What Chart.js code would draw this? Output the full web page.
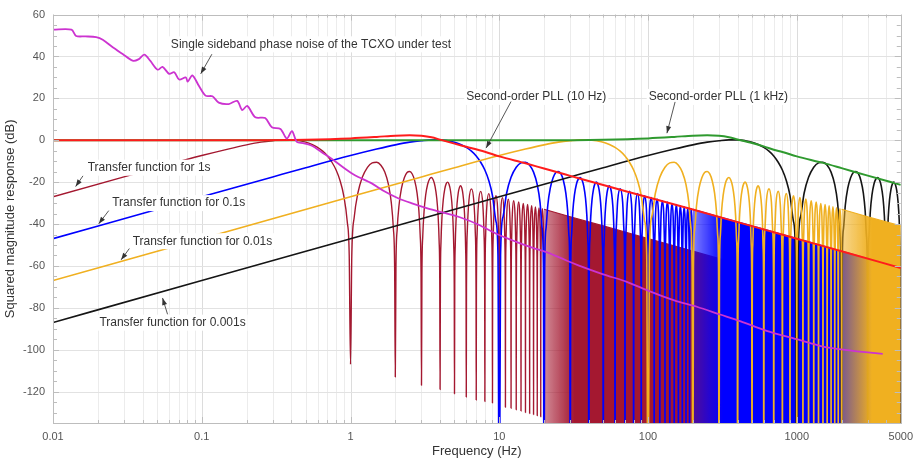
<!DOCTYPE html>
<html>
<head>
<meta charset="utf-8">
<script src="https://cdn.jsdelivr.net/npm/chart.js@4.4.1/dist/chart.umd.min.js"></script>
<style>
  html, body { margin: 0; padding: 0; background: #fff; }
</style>
</head>
<body>
<canvas id="myChart" width="920" height="462"></canvas>
<script>
const FONT = "'Liberation Sans', Arial, sans-serif";

// single sideband phase noise of the TCXO (Hz, dB)
const noiseHz = [0.01, 0.0133, 0.0143, 0.0165, 0.0195, 0.0216, 0.0252, 0.0294, 0.0343, 0.0375, 0.0411, 0.045, 0.0505, 0.0545, 0.0604, 0.0653, 0.0705, 0.0781, 0.0805, 0.0864, 0.0956, 0.106, 0.118, 0.13, 0.152, 0.173, 0.187, 0.202, 0.229, 0.267, 0.296, 0.338, 0.373, 0.404, 0.436, 0.48, 0.55, 0.64, 0.75, 0.92, 1.07, 1.39, 1.7, 2.09, 2.56, 3.33, 4.27, 5.55, 7.2, 9.8, 13, 17, 21, 28, 34, 50, 72, 104, 150, 213, 305, 420, 627, 1000, 1500, 2264, 3000, 3783];
const noiseDb = [52.8, 52.8, 49.8, 49.6, 49.2, 48, 44.4, 41.2, 38, 38.6, 40.9, 38, 33.7, 35, 31.7, 32.5, 29, 30, 28, 31, 26, 21.3, 21, 18, 17.3, 18.8, 14.4, 16.4, 11, 10.6, 6.2, 5.4, 0.8, 4.4, -0.8, -1.4, -2.6, -5.7, -8.9, -13.6, -16.7, -20.6, -24.5, -27.7, -30, -32.6, -34.7, -37, -40.2, -45, -48.5, -51.5, -53.5, -57.3, -59.7, -64, -67.6, -72.3, -76.5, -79.5, -83.2, -86.5, -91, -95, -98.5, -100.3, -101.3, -102];

// second-order PLL responses
const pll10Hz = [0.01, 0.2, 0.5, 1, 1.5, 2, 2.5, 3, 3.5, 4, 5, 6, 8, 10, 15, 20, 30, 50, 100, 200, 500, 1000, 2000, 5000];
const pll10Db = [0, 0.05, 0.3, 0.9, 1.6, 2.2, 2.4, 2.1, 1.4, 0.3, -1.6, -3.1, -5.5, -7.7, -11, -13.5, -17, -21.4, -27.2, -33.1, -41, -47, -53, -61];
const pll1kHz = [0.01, 20, 50, 100, 150, 200, 250, 300, 350, 400, 500, 600, 700, 800, 1000, 1500, 2000, 3000, 5000];
const pll1kDb = [0, 0.05, 0.3, 0.9, 1.6, 2.2, 2.4, 2.1, 1.4, 0.4, -1.3, -2.9, -4.5, -5.6, -7.7, -10.8, -13.3, -16.9, -21.3];

// transfer function shape, read against normalised frequency u = f * tau
const lobeU = [
  1e-5, 1e-4, 1e-3, 0.01, 0.03, 0.05, 0.1, 0.15, 0.2, 0.25, 0.3, 0.35, 0.4, 0.45, 0.5, 0.55, 0.6, 0.65, 0.7, 0.75, 0.8, 0.85, 0.9, 0.95, 0.98, 1,
  1.02, 1.06, 1.12, 1.2, 1.3, 1.4, 1.5, 1.6, 1.7, 1.8, 1.88, 1.94, 1.98, 2,
  2.02, 2.06, 2.12, 2.2, 2.3, 2.4, 2.5, 2.6, 2.7, 2.8, 2.88, 2.94, 2.98, 3,
  3.02, 3.06, 3.12, 3.2, 3.3, 3.4, 3.5, 3.6, 3.7, 3.8, 3.88, 3.94, 3.98, 4,
  4.02, 4.06, 4.12, 4.2, 4.3, 4.4, 4.5, 4.6, 4.7, 4.8, 4.88, 4.94, 4.98, 5,
  5.02, 5.06, 5.12, 5.2, 5.3, 5.4, 5.5, 5.6, 5.7, 5.8, 5.88, 5.94, 5.98, 6,
  6.02, 6.1, 6.25, 6.5, 6.75, 6.9, 6.98, 7,
  7.02, 7.1, 7.25, 7.5, 7.75, 7.9, 7.98, 8,
  8.02, 8.1, 8.25, 8.5, 8.75, 8.9, 8.98, 9,
  9.02, 9.1, 9.25, 9.5, 9.75, 9.9, 9.98, 10,
  10.02, 10.1, 10.25, 10.5, 10.75, 10.9, 10.98, 11,
  11.02, 11.1, 11.25, 11.5, 11.75, 11.9, 11.98, 12,
  12.02, 12.1, 12.25, 12.5, 12.75, 12.9, 12.98, 13,
  13.02, 13.1, 13.25, 13.5, 13.75, 13.9, 13.98, 14,
  14.02, 14.1, 14.25, 14.5, 14.75, 14.9, 14.98, 15,
  15.02, 15.1, 15.25, 15.5, 15.75, 15.9, 15.98, 16,
  16.02, 16.1, 16.25, 16.5, 16.75, 16.9, 16.98, 17,
  17.02, 17.1, 17.25, 17.5, 17.75, 17.9, 17.98, 18,
  18.02, 18.1, 18.25, 18.5, 18.75, 18.9, 18.98, 19,
  19.02, 19.1, 19.25, 19.5, 19.75, 19.9, 19.98, 20
];
const lobeDb = [
  -87, -67, -47, -27, -17.5, -13.1, -7.3, -4.2, -2.2, -0.9, -0.2, 0.2, 0.2, -0.2, -0.9, -2.0, -3.4, -5.2, -7.5, -10.5, -14.2, -19.2, -26.4, -38.7, -54.8, -107,
  -55.2, -36.5, -25.3, -17.7, -12.9, -10.8, -10.5, -11.9, -15.2, -21.2, -29.8, -41.8, -61.0, -113,
  -61.1, -42.3, -30.9, -23.0, -17.9, -15.4, -14.9, -16.1, -19.3, -25.1, -33.5, -45.4, -64.5, -117,
  -64.6, -45.7, -34.2, -26.2, -21.0, -18.5, -17.8, -19.0, -22.0, -27.7, -36.1, -47.9, -67.0, -119,
  -67.1, -48.2, -36.6, -28.6, -23.3, -20.7, -20.0, -21.1, -24.1, -29.8, -38.1, -49.9, -69.0, -121,
  -69.0, -50.1, -38.5, -30.5, -25.1, -22.5, -21.7, -22.8, -25.8, -31.4, -39.7, -51.5, -70.6, -122.6,
  -70.6, -43.0, -28.9, -23.2, -29.5, -44.1, -71.9, -124,
  -72.0, -44.4, -30.1, -24.4, -30.7, -45.3, -73.1, -124.7,
  -73.1, -45.5, -31.3, -25.5, -31.8, -46.3, -74.1, -125.4,
  -74.1, -46.5, -32.3, -26.5, -32.7, -47.2, -75.0, -126.5,
  -75.1, -47.4, -33.1, -27.4, -33.6, -48.1, -75.8, -127.5,
  -75.9, -48.2, -34.0, -28.1, -34.3, -48.8, -76.6, -128,
  -76.6, -49.0, -34.7, -28.9, -35.0, -49.5, -77.3, -128.7,
  -77.3, -49.7, -35.4, -29.5, -35.7, -50.2, -77.9, -129.3,
  -78.0, -50.3, -36.0, -30.2, -36.3, -50.8, -78.5, -130,
  -78.6, -50.9, -36.6, -30.7, -36.9, -51.4, -79.1, -130.5,
  -79.1, -51.5, -37.2, -31.3, -37.4, -51.9, -79.6, -131,
  -79.7, -52.0, -37.7, -31.8, -37.9, -52.4, -80.1, -131.5,
  -80.2, -52.5, -38.2, -32.3, -38.4, -52.9, -80.6, -132,
  -80.6, -53.0, -38.6, -32.7, -38.8, -53.3, -81.0, -133
];
// where the lobes get too dense to separate: the upper envelope only
const envU = [20, 30, 50, 100, 200, 500, 1000, 5000];
const envDb = [-32.95, -36.5, -40.9, -46.9, -52.95, -60.9, -66.9, -80.9];
// the 0.1 s, 0.01 s and 0.001 s curves have their nulls below the axis
const deepNullDb = -200;

const xTickValues = [0.01, 0.1, 1, 10, 100, 1000, 5000];
const xTickLabels = ['0.01', '0.1', '1', '10', '100', '1000', '5000'];
const yTickValues = [60, 40, 20, 0, -20, -40, -60, -80, -100, -120];

const COLORS = {
    noise: '#cc33d0',
    pll10: '#ff1c1c',
    pll1k: '#2f9a2f',
    t1: '164, 24, 48',
    t01: '0, 0, 255',
    t001: '240, 176, 32',
    t0001: '#151515'
};

const pts = (xs, ys) => xs.map((x, i) => ({ x: x, y: ys[i] }));
const tfData = (tau, deep) => lobeU.map((u, i) => ({
    x: u / tau,
    y: deep && Number.isInteger(u) && u >= 1 ? deepNullDb : lobeDb[i]
}));
const envData = (tau) => envU.map((u, i) => ({ x: u / tau, y: envDb[i] }));

function denseFill(rgb, tau) {
    return (c) => {
        const chart = c.chart;
        if (!chart.chartArea) return `rgb(${rgb})`;
        const xs = chart.scales.x;
        const g = chart.ctx.createLinearGradient(xs.getPixelForValue(20 / tau), 0, xs.getPixelForValue(32 / tau), 0);
        g.addColorStop(0, `rgba(${rgb}, 0.5)`);
        g.addColorStop(1, `rgba(${rgb}, 1)`);
        return g;
    };
}

const line = (data, color, width, extra) => Object.assign({
    data: data,
    borderColor: color,
    borderWidth: width,
    pointRadius: 0,
    fill: false,
    cubicInterpolationMode: 'monotone',
    borderJoinStyle: 'round'
}, extra || {});

// first dataset is drawn on top
const datasets = [
    line(pts(noiseHz, noiseDb), COLORS.noise, 1.8, { cubicInterpolationMode: 'default', tension: 0.3 }),
    line(pts(pll10Hz, pll10Db), COLORS.pll10, 2),
    line(pts(pll1kHz, pll1kDb), COLORS.pll1k, 2),
    line(tfData(0.01, true), `rgb(${COLORS.t001})`, 1.6),
    line(envData(0.01), `rgb(${COLORS.t001})`, 1.2, { fill: 'start', backgroundColor: denseFill(COLORS.t001, 0.01), cubicInterpolationMode: 'default' }),
    line(tfData(0.001, true), COLORS.t0001, 1.6),
    line(tfData(0.1, true), `rgb(${COLORS.t01})`, 1.6),
    line(envData(0.1), `rgb(${COLORS.t01})`, 1.2, { fill: 'start', backgroundColor: denseFill(COLORS.t01, 0.1), cubicInterpolationMode: 'default' }),
    line(tfData(1, false), `rgb(${COLORS.t1})`, 1.4),
    line(envData(1), `rgb(${COLORS.t1})`, 1.2, { fill: 'start', backgroundColor: denseFill(COLORS.t1, 1), cubicInterpolationMode: 'default' })
];

const notes = [
    { text: 'Single sideband phase noise of the TCXO under test', at: [0.062, 45.8], from: [0.117, 41.1], to: [0.0984, 31.7] },
    { text: 'Second-order PLL (10 Hz)', at: [6.0, 20.7], from: [12.0, 18.5], to: [8.16, -3.7] },
    { text: 'Second-order PLL (1 kHz)', at: [101, 20.7], from: [152, 18.3], to: [134, 3.4] },
    { text: 'Transfer function for 1s', at: [0.0171, -13.1], from: [0.0159, -17.0], to: [0.0142, -22.1] },
    { text: 'Transfer function for 0.1s', at: [0.025, -30.0], from: [0.0237, -33.6], to: [0.0203, -39.9] },
    { text: 'Transfer function for 0.01s', at: [0.0343, -48.2], from: [0.0326, -51.7], to: [0.0287, -57.1] },
    { text: 'Transfer function for 0.001s', at: [0.0205, -87.1], from: [0.0589, -83.1], to: [0.0545, -75.3] }
];

const xGrid = [];
for (let e = -2; e <= 3; e++) {
    for (let m = 1; m <= 9; m++) {
        const v = m * Math.pow(10, e);
        if (v <= 5000.0001) xGrid.push(v);
    }
}
const isDecade = (v) => Math.abs(Math.log10(v) - Math.round(Math.log10(v))) < 1e-9;

function seg(ctx, x1, y1, x2, y2) {
    ctx.beginPath();
    ctx.moveTo(x1, y1);
    ctx.lineTo(x2, y2);
    ctx.stroke();
}

const decor = {
    id: 'decor',
    beforeDatasetsDraw(chart) {
        const { ctx, chartArea: a, scales: { x, y } } = chart;
        ctx.save();
        ctx.lineWidth = 1;
        xGrid.forEach(v => {
            const px = Math.round(x.getPixelForValue(v)) + 0.5;
            ctx.strokeStyle = isDecade(v) ? '#dcdcdc' : '#ececec';
            seg(ctx, px, a.top, px, a.bottom);
        });
        ctx.strokeStyle = '#e2e2e2';
        yTickValues.forEach(v => {
            const py = Math.round(y.getPixelForValue(v)) + 0.5;
            seg(ctx, a.left, py, a.right, py);
        });
        ctx.restore();
    },
    afterDatasetsDraw(chart) {
        const { ctx, chartArea: a, scales: { x, y } } = chart;
        ctx.save();
        // frame with inward ticks
        ctx.strokeStyle = '#bdbdbd';
        ctx.lineWidth = 1;
        ctx.strokeRect(Math.round(a.left) + 0.5, Math.round(a.top) + 0.5, Math.round(a.right - a.left), Math.round(a.bottom - a.top));
        xGrid.forEach(v => {
            const px = Math.round(x.getPixelForValue(v)) + 0.5;
            const len = isDecade(v) ? 6 : 3;
            seg(ctx, px, a.bottom, px, a.bottom - len);
            seg(ctx, px, a.top, px, a.top + len);
        });
        for (let v = -135; v <= 60; v += 5) {
            const py = Math.round(y.getPixelForValue(v)) + 0.5;
            const len = v % 20 === 0 ? 6 : 4;
            seg(ctx, a.left, py, a.left + len, py);
            seg(ctx, a.right, py, a.right - len, py);
        }
        // callouts
        ctx.font = `12px ${FONT}`;
        ctx.textBaseline = 'middle';
        notes.forEach(n => {
            const tx = x.getPixelForValue(n.at[0]);
            const ty = y.getPixelForValue(n.at[1]);
            const w = ctx.measureText(n.text).width;
            ctx.fillStyle = '#fff';
            ctx.fillRect(tx - 2, ty - 8, w + 4, 16);
            ctx.fillStyle = '#333';
            ctx.fillText(n.text, tx, ty);
            const x1 = x.getPixelForValue(n.from[0]), y1 = y.getPixelForValue(n.from[1]);
            const x2 = x.getPixelForValue(n.to[0]), y2 = y.getPixelForValue(n.to[1]);
            ctx.strokeStyle = '#444';
            ctx.lineWidth = 0.9;
            seg(ctx, x1, y1, x2, y2);
            const ang = Math.atan2(y2 - y1, x2 - x1);
            ctx.fillStyle = '#333';
            ctx.beginPath();
            ctx.moveTo(x2, y2);
            ctx.lineTo(x2 - 7 * Math.cos(ang) + 2.5 * Math.sin(ang), y2 - 7 * Math.sin(ang) - 2.5 * Math.cos(ang));
            ctx.lineTo(x2 - 7 * Math.cos(ang) - 2.5 * Math.sin(ang), y2 - 7 * Math.sin(ang) + 2.5 * Math.cos(ang));
            ctx.closePath();
            ctx.fill();
        });
        ctx.restore();
    }
};

new Chart(document.getElementById('myChart'), {
    type: 'line',
    data: { datasets: datasets },
    plugins: [decor],
    options: {
        responsive: false,
        animation: false,
        devicePixelRatio: 1,
        normalized: true,
        layout: { padding: { top: 10, right: 13, bottom: 0, left: 0 } },
        plugins: {
            legend: { display: false },
            tooltip: { enabled: false }
        },
        elements: { point: { radius: 0 } },
        scales: {
            x: {
                type: 'logarithmic',
                min: 0.01,
                max: 5000,
                afterBuildTicks: (s) => { s.ticks = xTickValues.map(v => ({ value: v })); },
                afterFit: (s) => { s.height = 39; },
                grid: { display: false, drawTicks: false },
                border: { display: false },
                ticks: {
                    color: '#555',
                    font: { family: FONT, size: 11 },
                    padding: 7,
                    maxRotation: 0,
                    autoSkip: false,
                    callback: (v, i) => xTickLabels[i]
                },
                title: {
                    display: true,
                    text: 'Frequency (Hz)',
                    color: '#333',
                    font: { family: FONT, size: 13 },
                    padding: { top: 0, bottom: 3 }
                }
            },
            y: {
                min: -135,
                max: 60,
                afterBuildTicks: (s) => { s.ticks = yTickValues.map(v => ({ value: v })); },
                afterFit: (s) => { s.width = 53; },
                grid: { display: false, drawTicks: false },
                border: { display: false },
                ticks: {
                    color: '#555',
                    font: { family: FONT, size: 11 },
                    padding: 8,
                    callback: (v) => String(v)
                },
                title: {
                    display: true,
                    text: 'Squared magnitude response (dB)',
                    color: '#333',
                    font: { family: FONT, size: 13 },
                    padding: { top: 3, bottom: 0 }
                }
            }
        }
    }
});
</script>
</body>
</html>
